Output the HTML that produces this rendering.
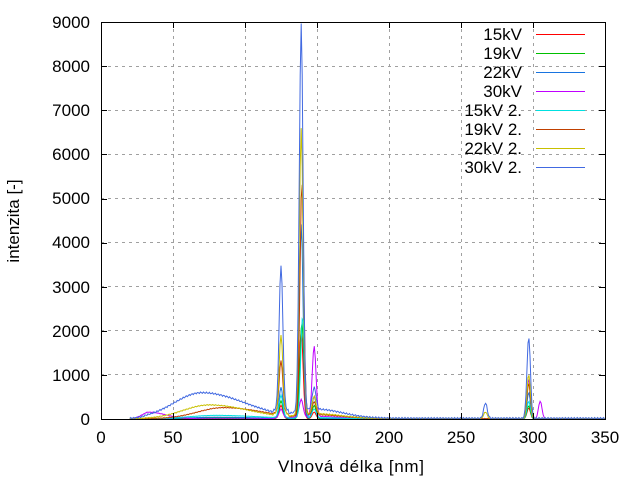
<!DOCTYPE html>
<html><head><meta charset="utf-8"><style>
body{margin:0;background:#fff;width:640px;height:480px;overflow:hidden}
svg{display:block;font-family:"Liberation Sans",sans-serif;font-size:16px}
</style></head><body>
<svg id="s" width="640" height="480" viewBox="0 0 640 480">
<g stroke="#a0a0a0" stroke-dasharray="3,4" stroke-width="1" fill="none">
<path d="M173.5 22V419M245.5 22V419M317.5 22V419M389.5 22V419M461.5 22V419M533.5 22V419"/>
<path d="M101 374.5H605M101 330.5H605M101 286.5H605M101 242.5H605M101 198.5H605M101 154.5H605M101 110.5H605M101 66.5H605"/>
</g>
<g id="series" fill="none" stroke-width="1"></g>
<rect x="101.5" y="22.5" width="504" height="397" fill="none" stroke="#000" stroke-width="1"/>
<g stroke="#000"><path id="ticks" d=""/></g>
<g text-anchor="end" fill="#000" font-size="17">
<text x="90" y="425">0</text><text x="90" y="381">1000</text><text x="90" y="337">2000</text><text x="90" y="293">3000</text><text x="90" y="248">4000</text><text x="90" y="204">5000</text><text x="90" y="160">6000</text><text x="90" y="116">7000</text><text x="90" y="72">8000</text><text x="90" y="28">9000</text>
</g>
<g text-anchor="middle" fill="#000" font-size="17">
<text x="101" y="443">0</text><text x="173" y="443">50</text><text x="245" y="443">100</text><text x="317" y="443">150</text><text x="389" y="443">200</text><text x="461" y="443">250</text><text x="533" y="443">300</text><text x="605" y="443">350</text>
<text x="351" y="472" textLength="146">Vlnová délka [nm]</text>
<text transform="translate(19,221) rotate(-90)">intenzita [-]</text>
</g>
<g id="leg" text-anchor="end" fill="#000" font-size="17"></g>
</svg>
<script>
const px=x=>101+x*1.44, py=v=>419-v*0.0441;
let t="";
for(let i=1;i<7;i++){let x=101.5+72*i;t+=`M${x} 419v-6M${x} 22v6`;}
for(let i=1;i<9;i++){let y=Math.round(419-44.1*i)+0.5;t+=`M101 ${y}h6M605 ${y}h-6`;}
document.getElementById('ticks').setAttribute('d',t);
function g(x,c,a,w){return a*Math.exp(-((x-c)*(x-c))/(2*w*w));}
const S=[
 ["15kV","#ff0000",{h:20,hc:80,hw:30,p:[[125,300],[139,2000],[148,150],[297,250]]}],
 ["19kV","#00c000",{h:25,hc:80,hw:30,p:[[125,400],[139.5,2200],[148,300],[297,300]]}],
 ["22kV","#1874e0",{h:40,hc:80,hw:30,p:[[125,700],[139,4400],[148,500],[297,600]]}],
 ["30kV","#c000ff",{h:150,hc:33,hw:12,p:[[125,200],[139,400],[148,1600],[305,400],[297,900]]}],
 ["15kV 2.","#00e0e0",{h:80,hc:80,hw:30,p:[[125,500],[140,2300],[148,200],[297,400]]}],
 ["19kV 2.","#c04000",{h:250,hc:85,hw:28,p:[[125,1200],[139.5,5300],[148,300],[297,800]]}],
 ["22kV 2.","#c8c000",{h:310,hc:75,hw:28,p:[[125,1800],[139,6500],[148,400],[267,150],[297,1000]]}],
 ["30kV 2.","#4169e1",{h:580,hc:70,hw:30,p:[[125,3300],[139,8800],[148,500],[267,350],[297,1850]]}]
];
let out="",leg="";
S.forEach((s,i)=>{
 const d=s[2];let pts=[];
 for(let x=20;x<=350;x+=0.7){
  let v=0;
  if(x<130) v+=d.h*Math.exp(-Math.pow((x-d.hc)/(d.hw*(x<d.hc?0.9:1.4)),2)) * Math.min(1,(x-20)/12);
  v+=d.h*0.35*Math.exp(-Math.pow((x-150)/25,2))*(x>120?1:0);
  d.p.forEach(p=>v+=g(x,p[0],p[1],p[0]<200?1.3:1.2));
  v+=(Math.sin(x*3.1+i)*0.5+0.5)*d.h*0.06;
  pts.push(px(x).toFixed(1)+","+py(Math.max(0,v)).toFixed(1));
 }
 out+=`<polyline stroke="${s[1]}" points="${pts.join(" ")}"/>`;
 const y=34+i*19;
 leg+=`<text x="522" y="${y+6}">${s[0]}</text><rect x="536" y="${y}" width="49" height="1" fill="${s[1]}"/>`;
});
document.getElementById('series').innerHTML=out;
document.getElementById('leg').innerHTML=leg;
</script>
</body></html>
